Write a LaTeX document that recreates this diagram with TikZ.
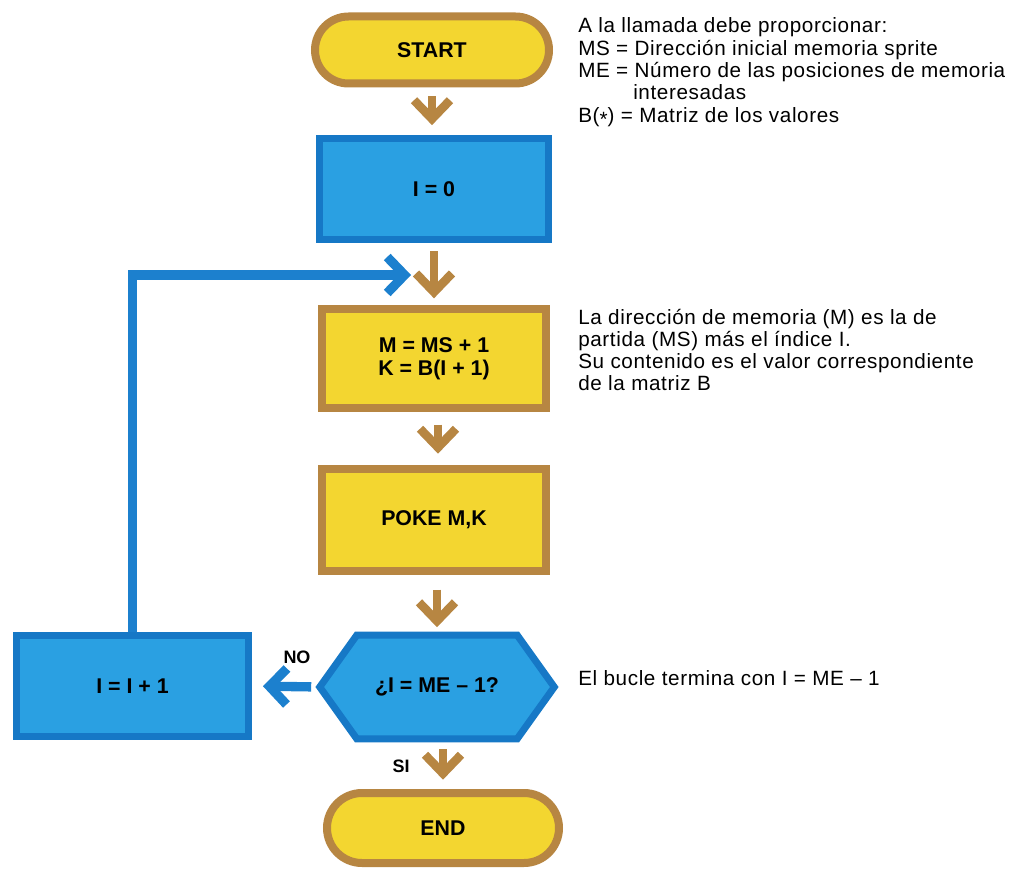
\documentclass[tikz,border=0pt]{standalone}
\usepackage{fontspec}
\setmainfont{Liberation Sans}
\newfontfamily\annfont[LetterSpace=3]{Liberation Sans}
\usetikzlibrary{shapes.misc,arrows.meta,calc,backgrounds}
\definecolor{yel}{RGB}{243,214,48}
\definecolor{brn}{RGB}{183,134,66}
\definecolor{bfill}{RGB}{42,160,226}
\definecolor{bline}{RGB}{22,120,198}
\definecolor{barr}{RGB}{28,128,206}
\begin{document}
\begin{tikzpicture}[x=0.75pt,y=-0.75pt,
  pill/.style={rounded rectangle, draw=brn, fill=yel, line width=6pt, inner sep=0pt,
    font=\bfseries\fontsize{16}{19}\selectfont},
  ybox/.style={rectangle, draw=brn, fill=yel, line width=6pt, inner sep=0pt, align=center,
    font=\bfseries\fontsize{16}{17.5}\selectfont},
  bbox/.style={rectangle, draw=bline, fill=bfill, line width=5.25pt, inner sep=0pt, align=center,
    font=\bfseries\fontsize{16}{19}\selectfont},
  barrow/.style={draw=brn, line width=6.5pt, -{Straight Barb[length=14pt,width=27pt]}},
  bluearrow/.style={draw=barr, line width=7pt, -{Straight Barb[length=13pt,width=27pt]}},
  ann/.style={anchor=base west, inner sep=0pt, font=\annfont\fontsize{15.5}{18}\selectfont},
  lbl/.style={inner sep=0pt, font=\bfseries\fontsize{13.5}{16}\selectfont}]
\useasboundingbox (0,0) rectangle (1014,870);

% main column
\node[pill, minimum width=175.5pt, minimum height=50.25pt] (start) at (432,50) {START};
\node[bbox, minimum width=171.75pt, minimum height=75.75pt] (i0) at (434,189) {I = 0};
\node[ybox, minimum width=168pt, minimum height=74.25pt] (m) at (434,358.5) {M = MS + 1\\K = B(I + 1)};
\node[ybox, minimum width=168pt, minimum height=76.5pt] (poke) at (434,520) {POKE M,K};
\node[rectangle, inner sep=0pt, minimum width=175.5pt, minimum height=77.25pt,
  font=\bfseries\fontsize{16}{19}\selectfont] (q) at (437,687) {¿I = ME – 1?};
\begin{scope}[on background layer]
  \draw[draw=bline, fill=bfill, line width=5.25pt, line join=miter]
    (q.west) -- ($(q.north west)+(37,0)$) -- ($(q.north east)+(-37,0)$) -- (q.east)
    -- ($(q.south east)+(-37,0)$) -- ($(q.south west)+(37,0)$) -- cycle;
\end{scope}
\node[pill, minimum width=174pt, minimum height=52.5pt] (end) at (443,828) {END};
\node[bbox, minimum width=174pt, minimum height=75.75pt] (inc) at (132.5,686) {I = I + 1};

% brown arrows
\draw[barrow, shorten <=6.6pt, shorten >=7.4pt] (start.south) -- (start.south |- i0.north);
\draw[barrow, shorten <=6.2pt, shorten >=5pt] (i0.south) -- (i0.south |- m.north);
\draw[barrow, shorten <=9.5pt, shorten >=8.5pt] ([xshift=3]m.south) -- ([xshift=3]m.south |- poke.north);
\draw[barrow, shorten <=11pt, shorten >=6pt] (q.north |- poke.south) -- (q.north);
\draw[barrow, shorten <=8pt, shorten >=7pt] (end.north |- q.south) -- (end.north);

% blue arrows
\draw[bluearrow, shorten <=6.4pt, shorten >=8.2pt] (q.west) -- (inc.east);
\coordinate (looptip) at (411,275);
\draw[bluearrow, line join=miter] (inc.north) |- (looptip);

% labels
\node[lbl] (no) at (297,657) {NO};
\node[lbl] (si) at (401,766) {SI};

% annotations
\node[ann] (a1) at (578,33) {A la llamada debe proporcionar:};
\node[ann] (a2) at (578,56) {MS = Dirección inicial memoria sprite};
\node[ann] (a3) at (578,78) {ME = Número de las posiciones de memoria};
\node[ann] (a4) at (633,100) {interesadas};
\node[ann] (a5) at (578,123) {B(\raisebox{-0.3ex}{*}) = Matriz de los valores};

\node[ann] (b1) at (578,324) {La dirección de memoria (M) es la de};
\node[ann] (b2) at (578,346) {partida (MS) más el índice I.};
\node[ann] (b3) at (578,368) {Su contenido es el valor correspondiente};
\node[ann] (b4) at (578,390) {de la matriz B};

\node[ann] (c1) at (578,685) {El bucle termina con I = ME – 1};
\end{tikzpicture}
\end{document}
